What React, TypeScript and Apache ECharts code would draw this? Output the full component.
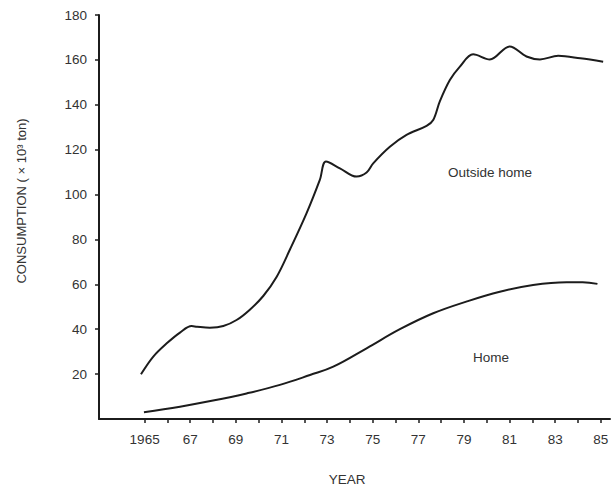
import React, { useEffect, useRef } from "react";
import * as echarts from "echarts";

const outsideYears = [1964.84, 1965.38, 1965.97, 1966.55, 1967.06, 1967.3, 1967.86, 1968.45, 1969.03, 1969.6, 1970.2, 1970.79, 1971.37, 1972.1, 1972.68, 1972.95, 1973.56, 1974.29, 1974.73, 1975.02, 1975.75, 1976.48, 1977.36, 1977.65, 1977.94, 1978.38, 1978.82, 1979.4, 1980.13, 1981.0, 1981.74, 1982.33, 1983.13, 1984.1, 1985.1];
const outsideValues = [19.9, 27.8, 33.7, 38.5, 41.4, 41.1, 40.7, 41.4, 44.1, 48.6, 54.8, 63.4, 75.5, 91.7, 106.5, 114.7, 111.7, 108, 109.8, 113.9, 121.3, 126.6, 130.6, 133.2, 141.5, 151, 157, 162.5, 160.2, 166, 161.5, 160.2, 161.8, 160.7, 159.2];

const homeYears = [1964.97, 1966.55, 1968.0, 1969.47, 1970.93, 1972.25, 1973.27, 1974.73, 1976.19, 1977.65, 1979.1, 1980.57, 1982.03, 1983.5, 1984.2, 1984.85];
const homeValues = [3.0, 5.5, 8.2, 11.4, 15.2, 19.6, 23.3, 31.5, 40, 47.1, 52.3, 56.7, 59.7, 60.9, 60.9, 60.2];

const xTickYears = [1965, 1966, 1967, 1968, 1969, 1970, 1971, 1972, 1973, 1974, 1975, 1976, 1977, 1978, 1979, 1980, 1981, 1982, 1983, 1984, 1985];
const xLabelYears = [1965, 1967, 1969, 1971, 1973, 1975, 1977, 1979, 1981, 1983, 1985];
const yTickValues = [20, 40, 60, 80, 100, 120, 140, 160, 180];

const FONT = "Liberation Sans, Arial, sans-serif";
const INK = "#1c1c1c";
const TEXT = "#333333";

export default function App() {
  const ref = useRef<HTMLDivElement>(null);
  useEffect(() => {
    document.body.style.margin = "0";
    const chart = echarts.init(ref.current!, null, { renderer: "svg" });
    chart.setOption({
      animation: false,
      backgroundColor: "#ffffff",
      grid: { left: 99, top: 15, right: 5, bottom: 69, outerBoundsMode: "none" },
      xAxis: {
        type: "value",
        min: 1963,
        max: 1985.4,
        interval: 1,
        splitLine: { show: false },
        axisLine: { show: true, lineStyle: { color: INK, width: 2 } },
        axisTick: { show: true, length: 4, customValues: xTickYears, lineStyle: { color: INK, width: 1.5 } },
        axisLabel: {
          customValues: xLabelYears,
          margin: 13,
          fontSize: 13.5,
          color: TEXT,
          fontFamily: FONT,
          formatter: (v: number) => (v === 1965 ? "1965" : String(v).slice(2)),
        },
      },
      yAxis: {
        type: "value",
        min: 0,
        max: 180,
        interval: 20,
        splitLine: { show: false },
        axisLine: { show: true, lineStyle: { color: INK, width: 2 } },
        axisTick: { show: true, length: 4, customValues: yTickValues, lineStyle: { color: INK, width: 1.5 } },
        axisLabel: {
          customValues: yTickValues,
          margin: 12,
          fontSize: 13.5,
          color: TEXT,
          fontFamily: FONT,
        },
      },
      series: [
        {
          name: "Outside home",
          type: "line",
          data: outsideYears.map((y, i) => [y, outsideValues[i]]),
          smooth: 0.35,
          showSymbol: false,
          lineStyle: { color: INK, width: 2 },
        },
        {
          name: "Home",
          type: "line",
          data: homeYears.map((y, i) => [y, homeValues[i]]),
          smooth: 0.4,
          showSymbol: false,
          lineStyle: { color: INK, width: 2 },
        },
      ],
      graphic: [
        {
          type: "text",
          x: 21,
          y: 201,
          rotation: Math.PI / 2,
          style: {
            text: "CONSUMPTION ( × 10³ ton)",
            fontSize: 13,
            fontFamily: FONT,
            fill: TEXT,
            textAlign: "center",
            textVerticalAlign: "middle",
          },
        },
        {
          type: "text",
          x: 347,
          y: 479,
          style: { text: "YEAR", fontSize: 13.5, fontFamily: FONT, fill: TEXT, textAlign: "center", textVerticalAlign: "middle" },
        },
        {
          type: "text",
          x: 490,
          y: 172,
          style: { text: "Outside home", fontSize: 13.5, fontFamily: FONT, fill: TEXT, textAlign: "center", textVerticalAlign: "middle" },
        },
        {
          type: "text",
          x: 491,
          y: 357,
          style: { text: "Home", fontSize: 13.5, fontFamily: FONT, fill: TEXT, textAlign: "center", textVerticalAlign: "middle" },
        },
      ],
    });
    return () => chart.dispose();
  }, []);
  return <div ref={ref} style={{ width: 615, height: 488 }} />;
}
